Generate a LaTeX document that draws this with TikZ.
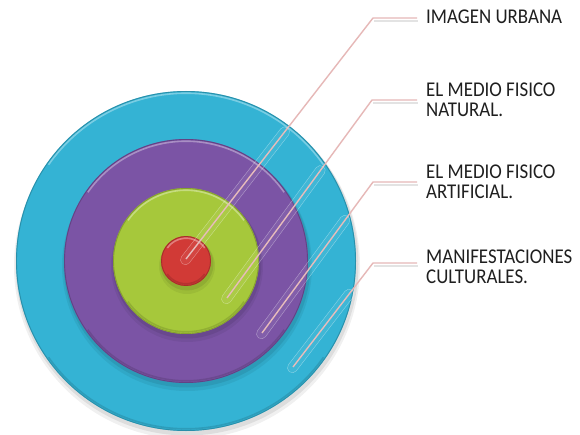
\documentclass[tikz,border=0pt]{standalone}
\usepackage{fontspec}
\setmainfont{Carlito}
\newfontfamily\lblfont[FakeStretch=0.9]{Carlito}
\usetikzlibrary{calc}
\definecolor{cyanD}{HTML}{34B3D4}
\definecolor{purpD}{HTML}{7B54A5}
\definecolor{greenD}{HTML}{A6C83B}
\definecolor{redD}{HTML}{D13A36}
\definecolor{leadc}{HTML}{E6B8B7}
\definecolor{txtc}{HTML}{1F1F1F}
\begin{document}
\begin{tikzpicture}[x=1pt,y=1pt,
  disc/.style={circle, inner sep=0pt, minimum size=#1},
  lead/.style={draw=leadc, line width=1.4pt, line join=miter},
  leadshadow/.style={draw=black!18, line width=2.4pt, opacity=0.6},
  pill/.style={draw=white, draw opacity=0.4, fill=white, fill opacity=0.06, line width=0.4pt, rounded corners=5pt, minimum height=10pt, inner sep=0pt},
  lbl/.style={anchor=west, align=left, inner sep=0pt, text=txtc, font=\lblfont\fontsize{21}{20}\selectfont}]
\useasboundingbox (0,0) rectangle (580,434);
\fill[white] (0,0) rectangle (580,434);
% discs
\foreach \nm/\r/\col in {outer/170/cyanD, mid/122/purpD, inner/73/greenD, core/25/redD} {
  \fill[black, opacity=0.06] (187,168) circle (\r+3);
  \fill[black, opacity=0.08] (187,170) circle (\r+1.5);
  \node[disc=2*\r pt, fill=\col] (\nm) at (186,173) {};
  \draw[\col!72!black, line width=0.9pt, opacity=0.7] (\nm.center) circle (\r-0.5);
  \draw[white, opacity=0.35, line width=1.6pt] ($(\nm.center)+(35:\r-2.2)$) arc (35:145:\r-2.2);
  \draw[black, opacity=0.12, line width=1.6pt] ($(\nm.center)+(215:\r-2.2)$) arc (215:325:\r-2.2);
}
% anchor coordinates
\coordinate (p1) at (186,175); \coordinate (k1) at (373,416); \coordinate (e1) at (417,416);
\coordinate (p2) at (227,136); \coordinate (k2) at (372,334); \coordinate (e2) at (417,334);
\coordinate (p3) at (262,101); \coordinate (k3) at (373,252); \coordinate (e3) at (417,252);
\coordinate (p4) at (293,67);  \coordinate (k4) at (373,171); \coordinate (e4) at (417,171);
% labels
\node[lbl] (t1) at (426,417) {IMAGEN URBANA};
\node[lbl] (t2) at (426,333.75) {EL MEDIO FISICO\\NATURAL.};
\node[lbl] (t3) at (426,252) {EL MEDIO FISICO\\ARTIFICIAL.};
\node[lbl] (t4) at (426,167) {MANIFESTACIONES\\CULTURALES.};
% leader shadows
\foreach \i in {1,2,3,4} {
  \draw[leadshadow] ([shift={(1,-3)}]k\i) -- ([shift={(1,-3)}]e\i);
}
% leaders
\foreach \i in {1,2,3,4} {
  \draw[lead] (p\i) -- (k\i) -- (e\i);
}
% pills
\node[pill, minimum width=172pt, rotate=52.2] at ($(p1)!80pt!(k1)$) {};
\node[pill, minimum width=169pt, rotate=53.8] at ($(p2)!78.5pt!(k2)$) {};
\node[pill, minimum width=151pt, rotate=53.7] at ($(p3)!69.5pt!(k3)$) {};
\node[pill, minimum width=103pt, rotate=52.4] at ($(p4)!45.5pt!(k4)$) {};
\end{tikzpicture}
\end{document}
